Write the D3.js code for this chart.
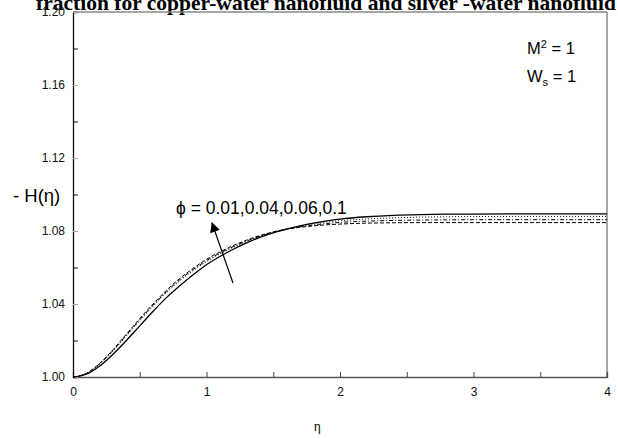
<!DOCTYPE html>
<html><head><meta charset="utf-8">
<script src="https://cdn.jsdelivr.net/npm/d3@7"></script>
<style>body{margin:0;background:#fff}svg{display:block}</style>
</head><body><svg id="c" width="618" height="438"></svg>
<script>
const eta = [0,0.1,0.2,0.3,0.4,0.5,0.6,0.7,0.8,0.9,1.0,1.1,1.2,1.3,1.4,1.5,1.6,1.7,1.8,1.9,2.0,2.2,2.4,2.6,2.8,3.0,3.5,4.0];
const phi001 = [1.000,1.0015,1.0060,1.0125,1.0200,1.0280,1.0360,1.0435,1.0500,1.0560,1.0615,1.0660,1.0700,1.0735,1.0765,1.0790,1.0810,1.0828,1.0843,1.0855,1.0865,1.0878,1.0886,1.0890,1.0892,1.0893,1.0894,1.0894];
const phi004 = [1.000,1.0018,1.0070,1.0142,1.0225,1.0308,1.0388,1.0462,1.0527,1.0583,1.0632,1.0674,1.0710,1.0742,1.0770,1.0793,1.0812,1.0827,1.0839,1.0849,1.0856,1.0866,1.0872,1.0876,1.0878,1.0879,1.0880,1.0880];
const phi006 = [1.000,1.0019,1.0073,1.0146,1.0230,1.0314,1.0394,1.0468,1.0533,1.0589,1.0638,1.0679,1.0714,1.0745,1.0771,1.0793,1.0810,1.0823,1.0833,1.0841,1.0847,1.0854,1.0858,1.0860,1.0861,1.0862,1.0862,1.0862];
const phi010 = [1.000,1.0020,1.0075,1.0150,1.0235,1.0320,1.0400,1.0475,1.0540,1.0595,1.0645,1.0685,1.0720,1.0750,1.0775,1.0795,1.0810,1.0820,1.0828,1.0834,1.0838,1.0843,1.0845,1.0846,1.0846,1.0846,1.0846,1.0846];
const xTicks = [0,1,2,3,4];
const yTicks = [1.00,1.04,1.08,1.12,1.16,1.20];
const yTickLabels = ["1.00","1.04","1.08","1.12","1.16","1.20"];

const svg = d3.select("#c");
const L=73, R=607, T=12, B=377;
const x = d3.scaleLinear().domain([0,4]).range([L,R]);
const y = d3.scaleLinear().domain([1.00,1.20]).range([B,T]);
const font = "Arial, 'Liberation Sans', sans-serif";

// title (cut off at top, as in the reference)
svg.append("text").attr("x",326).attr("y",10).attr("text-anchor","middle")
  .attr("font-family","'Times New Roman','Liberation Serif',serif").attr("font-weight","bold")
  .attr("font-size",21.5).text("fraction for copper-water nanofluid and silver -water nanofluid");

// frame top/right gray
svg.append("line").attr("x1",L).attr("x2",R).attr("y1",T).attr("y2",T).attr("stroke","#888").attr("stroke-width",1.5);
svg.append("line").attr("x1",R).attr("x2",R).attr("y1",T).attr("y2",B).attr("stroke","#888").attr("stroke-width",1.5);

// axes
const xAxis = d3.axisBottom(x).tickValues(d3.range(0,4.01,0.5)).tickSize(-5).tickFormat(d=> xTicks.includes(d)? String(d):"").tickPadding(10);
const gx = svg.append("g").attr("transform",`translate(0,${B})`).call(xAxis);
gx.select(".domain").attr("stroke","#555").attr("stroke-width",1.3);
gx.selectAll(".tick line").attr("stroke","#444");
gx.selectAll("text").attr("font-family",font).attr("font-size",12).attr("fill","#111");

const yAxis = d3.axisLeft(y).tickValues(d3.range(1.00,1.2001,0.02)).tickSize(-5)
  .tickFormat(d=>{const i=yTicks.findIndex(v=>Math.abs(v-d)<1e-6); return i>=0?yTickLabels[i]:"";}).tickPadding(8);
const gy = svg.append("g").attr("transform",`translate(${L},0)`).call(yAxis);
gy.select(".domain").attr("stroke","#111").attr("stroke-width",1.3);
gy.selectAll(".tick line").attr("stroke",d=> yTicks.some(v=>Math.abs(v-d)<1e-6)?"#aaa":"#111");
gy.selectAll("text").attr("font-family",font).attr("font-size",12).attr("fill","#111");

// axis labels
svg.append("text").attr("x",13).attr("y",202).attr("font-family",font).attr("font-size",18.5).text("- H(η)");
svg.append("text").attr("x",314).attr("y",431).attr("font-family",font).attr("font-size",12).text("η");

// curves
const series = [
  {v:phi001, dash:null, w:1.3},
  {v:phi004, dash:"1,2", w:1},
  {v:phi006, dash:"4,2,1,2", w:1},
  {v:phi010, dash:"4,2", w:1}
];
const line = d3.line().x((d,i)=>x(eta[i])).y(d=>y(d)).curve(d3.curveMonotoneX);
series.forEach(s=>{
  svg.append("path").attr("d",line(s.v)).attr("fill","none").attr("stroke","#000")
    .attr("stroke-width",s.w).attr("stroke-dasharray",s.dash);
});

// annotations
svg.append("text").attr("x",527).attr("y",54).attr("font-family",font).attr("font-size",16.5)
  .html('M<tspan dy="-6" font-size="11">2</tspan><tspan dy="6"> = 1</tspan>');
svg.append("text").attr("x",527).attr("y",82).attr("font-family",font).attr("font-size",16.5)
  .html('W<tspan dy="4" font-size="11">s</tspan><tspan dy="-4"> = 1</tspan>');
svg.append("text").attr("x",176).attr("y",214).attr("font-family",font).attr("font-size",17.5)
  .text("ϕ = 0.01,0.04,0.06,0.1");

// arrow
svg.append("defs").append("marker").attr("id","ah").attr("viewBox","0 0 10 10").attr("refX",9).attr("refY",5)
  .attr("markerWidth",16).attr("markerHeight",10).attr("markerUnits","userSpaceOnUse").attr("orient","auto")
  .append("path").attr("d","M0,0 L10,5 L0,10 Z").attr("fill","#000");
svg.append("line").attr("x1",233).attr("y1",283).attr("x2",212).attr("y2",223)
  .attr("stroke","#000").attr("stroke-width",1.2).attr("marker-end","url(#ah)");
</script></body></html>
